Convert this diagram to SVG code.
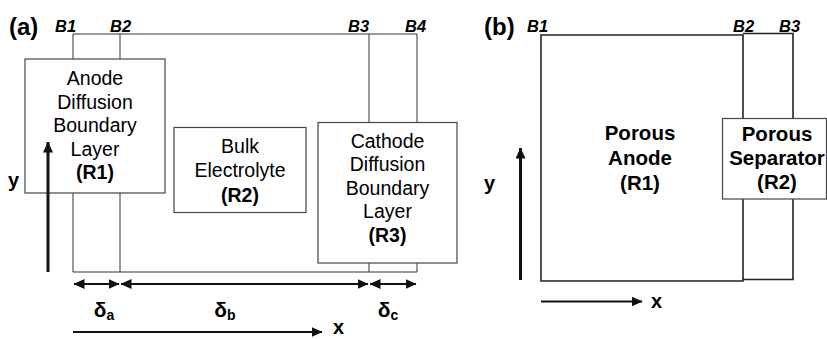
<svg xmlns="http://www.w3.org/2000/svg" width="827" height="339" viewBox="0 0 827 339">
<style>
text{font-family:"Liberation Sans",Arial,sans-serif;fill:#000}
.n{font-size:19.5px;text-anchor:middle}
.nb{font-size:19.5px;font-weight:bold;text-anchor:middle}
.pb{font-size:20.5px;font-weight:bold;text-anchor:middle}
.bl{font-size:16.5px;font-weight:bold;font-style:italic}
.pl{font-size:24px;font-weight:bold}
.ax{font-size:20px;font-weight:bold}
.d{font-size:21px;font-weight:bold;text-anchor:middle}
.box{fill:#fff;stroke:#444;stroke-width:1.2}
.fr{fill:none;stroke:#333;stroke-width:1}
.frb{fill:none;stroke:#222;stroke-width:1.6}
.arr{stroke:#111;stroke-width:2;fill:none}
.yarr{stroke:#111;stroke-width:3;fill:none}
</style>
<defs>
<marker id="ah" markerUnits="userSpaceOnUse" markerWidth="11" markerHeight="10" refX="10.5" refY="5" orient="auto-start-reverse" viewBox="0 0 11 10">
<path d="M0,0 L11,5 L0,10 z" fill="#111"/>
</marker>
</defs>

<!-- Panel (a) labels -->
<text class="pl" x="9" y="35">(a)</text>
<text class="bl" x="55" y="32">B1</text>
<text class="bl" x="110" y="32">B2</text>
<text class="bl" x="348" y="32">B3</text>
<text class="bl" x="405" y="32">B4</text>

<g id="connectors">
<!-- panel a frame -->
<path class="fr" d="M73,272 V34 H417 V272 H73 M120,34 V272 M369,34 V272"/>
<!-- panel b frame -->
<path class="frb" d="M541,35 H743 V281 H541 Z"/>
<path class="frb" d="M743,33.5 H793 V279.5 H743"/>
</g>

<g id="anode-diffusion">
<rect class="box" x="25" y="59" width="140" height="134"/>
<text class="n" x="95" y="85">Anode</text>
<text class="n" x="95" y="108.5">Diffusion</text>
<text class="n" x="95" y="132">Boundary</text>
<text class="n" x="95" y="155.5">Layer</text>
<text class="nb" x="95" y="179">(R1)</text>
</g>

<g id="bulk-electrolyte">
<rect class="box" x="174" y="127.5" width="132" height="85"/>
<text class="n" x="240" y="153">Bulk</text>
<text class="n" x="240" y="177">Electrolyte</text>
<text class="nb" x="240" y="201.5">(R2)</text>
</g>

<g id="cathode-diffusion">
<rect class="box" x="318" y="122.5" width="139" height="140.5"/>
<text class="n" x="387.5" y="147.5">Cathode</text>
<text class="n" x="387.5" y="171">Diffusion</text>
<text class="n" x="387.5" y="194.5">Boundary</text>
<text class="n" x="387.5" y="218">Layer</text>
<text class="nb" x="387.5" y="241.5">(R3)</text>
</g>

<g id="axes-a">
<line class="yarr" x1="48" y1="272" x2="48" y2="142" marker-end="url(#ah)"/>
<text class="ax" x="8" y="187">y</text>
<line class="arr" x1="73" y1="332" x2="322" y2="332" marker-end="url(#ah)"/>
<text class="ax" x="333" y="334" font-size="19">x</text>
</g>

<g id="dimensions">
<line class="arr" x1="74" y1="284" x2="119" y2="284" marker-start="url(#ah)" marker-end="url(#ah)"/>
<line class="arr" x1="121" y1="284" x2="368" y2="284" marker-start="url(#ah)" marker-end="url(#ah)"/>
<line class="arr" x1="370" y1="284" x2="416" y2="284" marker-start="url(#ah)" marker-end="url(#ah)"/>
<text class="d" x="104" y="317">δ<tspan font-size="14" dy="3">a</tspan></text>
<text class="d" x="225" y="317">δ<tspan font-size="14" dy="3">b</tspan></text>
<text class="d" x="388" y="317">δ<tspan font-size="14" dy="3">c</tspan></text>
</g>

<!-- Panel (b) labels -->
<text class="pl" x="484" y="35">(b)</text>
<text class="bl" x="527" y="32">B1</text>
<text class="bl" x="733" y="32">B2</text>
<text class="bl" x="779" y="32">B3</text>

<g id="porous-anode">
<text class="pb" x="640" y="140">Porous</text>
<text class="pb" x="640" y="165">Anode</text>
<text class="pb" x="640" y="190">(R1)</text>
</g>

<g id="porous-separator">
<rect class="box" x="722.5" y="118.5" width="104" height="80.5"/>
<text class="pb" x="777" y="141">Porous</text>
<text class="pb" x="777" y="165">Separator</text>
<text class="pb" x="777" y="189">(R2)</text>
</g>

<g id="axes-b">
<line class="yarr" x1="520.5" y1="280" x2="520.5" y2="148" marker-end="url(#ah)"/>
<text class="ax" x="484" y="190">y</text>
<line class="arr" x1="541" y1="301.5" x2="642" y2="301.5" marker-end="url(#ah)"/>
<text class="ax" x="651" y="308">x</text>
</g>
</svg>
